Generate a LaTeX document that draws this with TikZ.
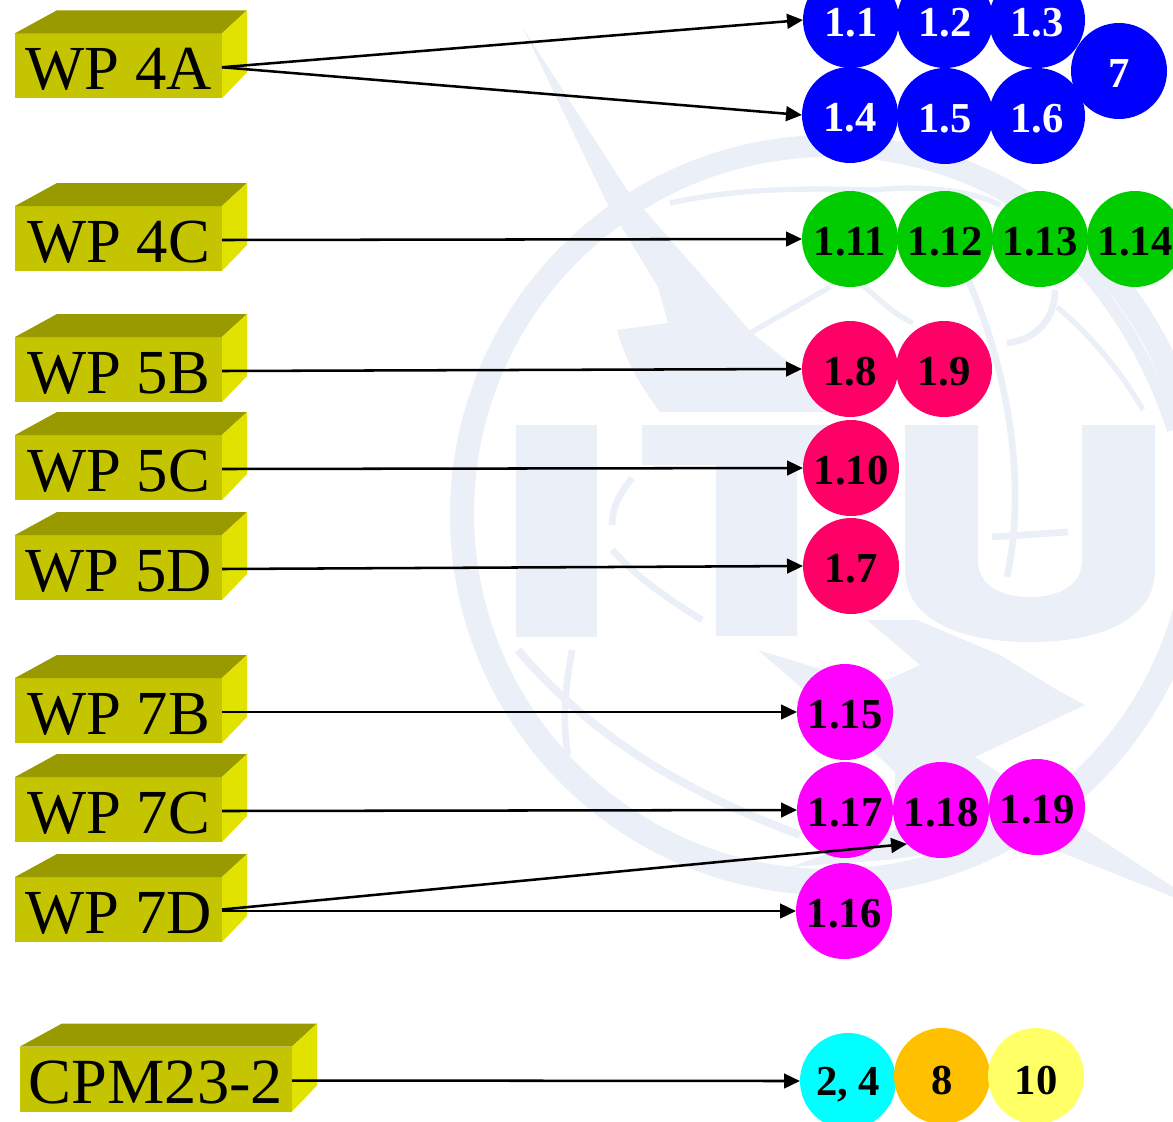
\documentclass[tikz,border=0pt]{standalone}
\usepackage{fontspec}
\setmainfont{Liberation Serif}
\usetikzlibrary{arrows.meta}
\definecolor{wmblue}{HTML}{EAEFF8}
\definecolor{wpfront}{HTML}{C4C400}
\definecolor{wptop}{HTML}{999900}
\definecolor{wpside}{HTML}{E2E200}
\definecolor{aiblue}{HTML}{0000FF}
\definecolor{aired}{HTML}{FF0066}
\definecolor{aigreen}{HTML}{00CC00}
\definecolor{aimagenta}{HTML}{FF00FF}
\definecolor{aicyan}{HTML}{00FFFF}
\definecolor{aiorange}{HTML}{FFC000}
\definecolor{aiyellow}{HTML}{FFFF66}
\tikzset{
  wmfill/.style={fill=wmblue},
  wmline/.style={draw=wmblue,line width=#1},
  wpbox/.style={fill=wpfront,inner sep=0pt,outer sep=0pt,minimum width=155.25pt,minimum height=48.75pt,
    text height=36pt,text depth=0pt,font=\fontsize{47}{47}\selectfont},
  wpwide/.style={wpbox,minimum width=204pt,font=\fontsize{48.3}{48.3}\selectfont},
  bubble/.style={circle,inner sep=0pt,outer sep=0pt,minimum size=72pt,text height=24pt,text depth=0pt,
    font=\fontsize{32}{32}\selectfont\bfseries},
  link/.style={line width=1.9pt,-{Triangle[length=12pt,width=11pt]}}
}
% front face is the node, top and side are filled from its corners
\newcommand{\wpblock}[4]{
  \node[#2](#1) at (#3){#4};
  \fill[wptop](#1.north west)-- ++(42,-23)--([shift={(25,-23)}]#1.north east)--(#1.north east)--cycle;
  \fill[wpside](#1.north east)--([shift={(25,-23)}]#1.north east)--([shift={(25,-26)}]#1.south east)--(#1.south east)--cycle;
  \coordinate(#1out) at ([shift={(0,1.5)}]#1.east);
}
\begin{document}
\begin{tikzpicture}[x=0.75pt,y=-0.75pt]
  \useasboundingbox (0,0) rectangle (1173,1121);
  \clip (0,0) rectangle (1173,1121);

  % watermark
  \fill[wmfill,even odd rule](830,515) circle[radius=380] (830,513) circle[radius=356];
  \fill[wmfill](516,425) rectangle (597,637);
  \fill[wmfill](642,425)--(872,425)--(872,465)--(797,465)--(797,636)--(716,636)--(716,465)--(642,465)--cycle;
  \fill[wmfill](905,425)--(905,570) .. controls (905,620) and (960,642) .. (1030,642)
    .. controls (1100,642) and (1155,620) .. (1155,570)--(1155,425)--(1082,425)--(1082,560)
    .. controls (1082,585) and (1060,597) .. (1030,597) .. controls (1000,597) and (978,585) .. (978,560)
    --(978,425)--cycle;
  \fill[wmfill](523,28)--(627,190)--(752,333)--(830,395)--(848,412)--(660,412)
    .. controls (640,385) and (625,360) .. (617,330)--(668,323)--(658,287)--(607,203)--cycle;
  \fill[wmfill](758,650)--(830,672)--(887,680)--(920,665)--(867,620)--(917,620)--(1000,655)--(1057,690)
    --(1085,705)--(975,757)--(1173,887)--(1173,897)--(1010,832)--(985,847)--(886,860)--(790,867)
    --(895,830)--(895,772)--(850,730)--cycle;
  \draw[wmline=6pt](518,650) .. controls (590,735) and (680,790) .. (800,835);
  \draw[wmline=5pt](572,650) .. controls (565,690) and (562,720) .. (568,755);
  \draw[wmline=5pt](632,478) .. controls (618,495) and (612,510) .. (612,525);
  \draw[wmline=5pt](612,550) .. controls (640,580) and (670,600) .. (702,620);
  \draw[wmline=4pt](670,203) .. controls (740,188) and (800,188) .. (873,190);
  \draw[wmline=4pt](873,190) .. controls (920,185) and (970,190) .. (1000,205);
  \draw[wmline=4pt](750,333)--(830,287);
  \draw[wmline=4pt](860,283) .. controls (880,300) and (895,315) .. (913,323);
  \draw[wmline=5pt](968,280) .. controls (1000,350) and (1030,470) .. (1007,577);
  \draw[wmline=5pt](992,537)--(1068,532);
  \draw[wmline=5pt](1007,343) .. controls (1035,340) and (1055,320) .. (1055,290);
  \draw[wmline=4pt](1057,307) .. controls (1090,335) and (1120,370) .. (1143,410);
  \draw[wmline=9pt](1080,267) .. controls (1115,305) and (1150,360) .. (1173,430);

  % blocks
  \wpblock{wpfa}{wpbox}{118.5,65.75}{WP 4A}
  \wpblock{wpfc}{wpbox}{118.5,238.5}{WP 4C}
  \wpblock{wpfiveb}{wpbox}{118.5,369.5}{WP 5B}
  \wpblock{wpfivec}{wpbox}{118.5,467.5}{WP 5C}
  \wpblock{wpfived}{wpbox}{118.5,567.5}{WP 5D}
  \wpblock{wpsb}{wpbox}{118.5,710.5}{WP 7B}
  \wpblock{wpsc}{wpbox}{118.5,809.5}{WP 7C}
  \wpblock{wpsd}{wpbox}{118.5,909.5}{WP 7D}
  \wpblock{cpm}{wpwide}{156,1079}{CPM23-2}

  % agenda items
  \node[bubble,fill=aiblue,text=white](ai1) at (851,20){1.1};
  \node[bubble,fill=aiblue,text=white](ai2) at (945,20){1.2};
  \node[bubble,fill=aiblue,text=white](ai3) at (1037,20){1.3};
  \node[bubble,fill=aiblue,text=white](ai4) at (850,115){1.4};
  \node[bubble,fill=aiblue,text=white](ai5) at (945,116){1.5};
  \node[bubble,fill=aiblue,text=white](ai6) at (1037,116){1.6};
  \node[bubble,fill=aiblue,text=white](aiseven) at (1119,71){7};

  \node[bubble,fill=aigreen](ai11) at (850,239){1.11};
  \node[bubble,fill=aigreen](ai12) at (945,239){1.12};
  \node[bubble,fill=aigreen](ai13) at (1040,239){1.13};
  \node[bubble,fill=aigreen](ai14) at (1135,239){1.14};

  \node[bubble,fill=aired](ai8) at (850,369){1.8};
  \node[bubble,fill=aired](ai9) at (944,369){1.9};
  \node[bubble,fill=aired](ai10) at (851,468){1.10};
  \node[bubble,fill=aired](ai7) at (851,566){1.7};

  \node[bubble,fill=aimagenta](ai15) at (845,712){1.15};
  \node[bubble,fill=aimagenta](ai17) at (845,810){1.17};
  \node[bubble,fill=aimagenta](ai18) at (941,810){1.18};
  \node[bubble,fill=aimagenta](ai19) at (1037,807){1.19};
  \node[bubble,fill=aimagenta](ai16) at (844,911){1.16};

  \node[bubble,fill=aicyan,text height=22pt](aitwo) at (848,1081){2, 4};
  \node[bubble,fill=aiorange,text height=27.5pt](aieight) at (942,1076){8};
  \node[bubble,fill=aiyellow,text height=27.5pt](aiten) at (1036,1076){10};

  \draw[link](wpfaout)--(ai1.west);
  \draw[link](wpfaout)--(ai4.west);
  \draw[link](wpfcout)--(ai11.west);
  \draw[link](wpfivebout)--(ai8.west);
  \draw[link](wpfivecout)--(ai10.west);
  \draw[link](wpfivedout)--(ai7.west);
  \draw[link](wpsbout)--(ai15.west);
  \draw[link](wpscout)--(ai17.west);
  \draw[link](wpsd.east)--(ai18.south west);
  \draw[link](wpsdout)--(ai16.west);
  \draw[link](cpmout)--(aitwo.west);
\end{tikzpicture}
\end{document}
